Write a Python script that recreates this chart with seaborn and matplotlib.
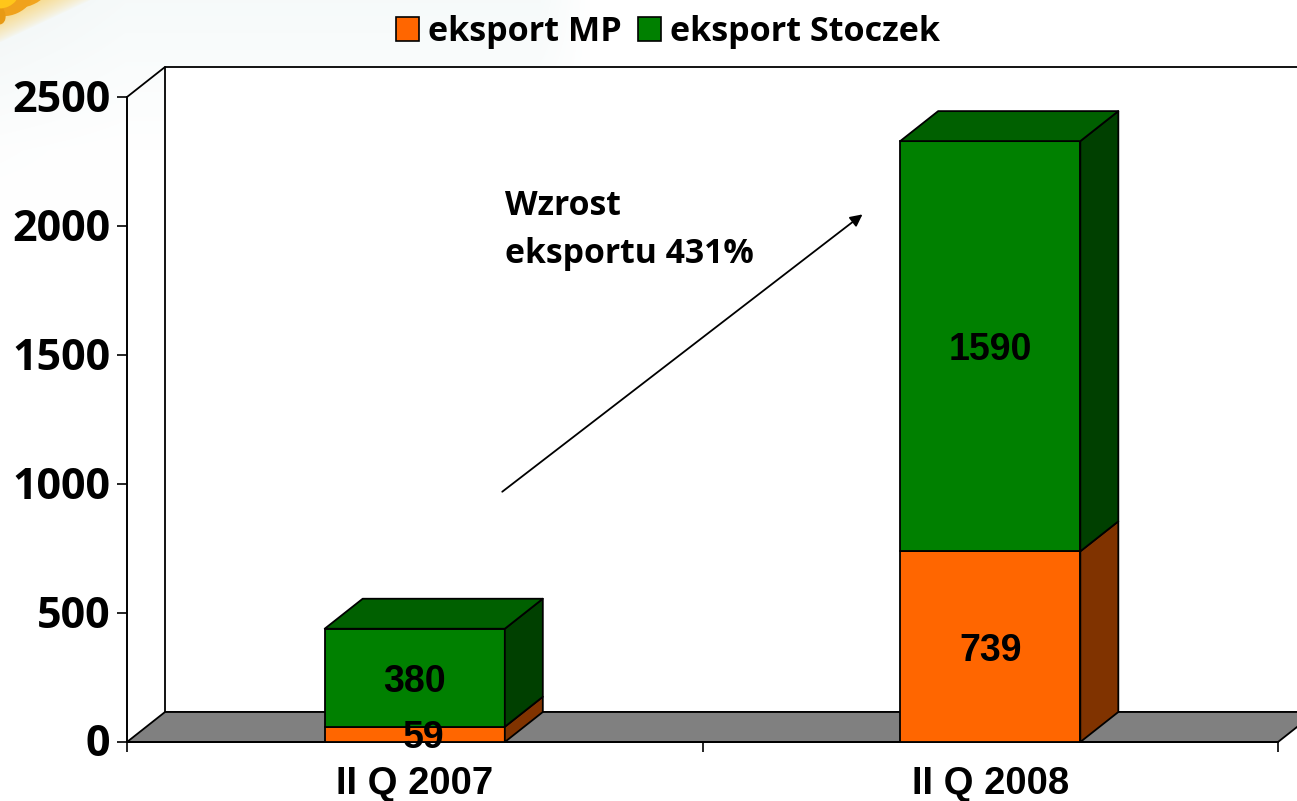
import numpy as np
import pandas as pd
import seaborn as sns
import matplotlib.pyplot as plt
from matplotlib.patches import Polygon, Patch, Ellipse
from matplotlib.transforms import ScaledTranslation

categories = ["II Q 2007", "II Q 2008"]
eksport_mp = [59, 739]
eksport_stoczek = [380, 1590]
series_names = ["eksport MP", "eksport Stoczek"]
y_ticks = [0, 500, 1000, 1500, 2000, 2500]
annotation = "Wzrost\neksportu 431%"

ORANGE, ORANGE_SIDE = "#FF6600", "#803300"
GREEN, GREEN_TOP, GREEN_SIDE = "#008000", "#006000", "#004000"
FLOOR = "#808080"
TICK_FONT = "Open Sans"
W, H = 1297, 801

sns.set_theme(style="white")
plt.rcParams["font.family"] = ["Liberation Sans", "DejaVu Sans"]

fig = plt.figure(figsize=(W / 100, H / 100), dpi=100, facecolor="white")

# soft backdrop with the corner ornament
bg = fig.add_axes([0, 0, 1, 1], zorder=0)
bg.set_axis_off()
yy, xx = np.mgrid[0:H, 0:W]
glow = np.ones((H, W, 3))
tint = np.clip(1 - yy / 150, 0, 1) * np.clip((590 - xx) / 50, 0, 1)
glow -= tint[..., None] * np.array([0.035, 0.02, 0.02])
left_tint = np.clip(1 - xx / 125, 0, 1) * np.clip(1 - yy / 220, 0, 1)
glow -= left_tint[..., None] * np.array([0.02, 0.015, 0.015])
corner = np.clip(1 - (xx / 90 + yy / 42), 0, 1)[..., None] ** 0.8
glow = glow * (1 - corner) + corner * np.array([0.98, 0.80, 0.35])
bg.imshow(glow, extent=(0, W, H, 0), aspect="auto", interpolation="bilinear")
for cx, cy, ew, eh, col in [(30, -4, 40, 18, "#F2A51E"), (13, 3, 40, 22, "#F0A21C"),
                            (-3, 14, 16, 22, "#E89A14"), (6, 1, 24, 12, "#FFC61A")]:
    bg.add_patch(Ellipse((cx, cy), ew, eh, angle=-25, facecolor=col, edgecolor="none"))
bg.set_xlim(0, W)
bg.set_ylim(H, 0)

ax = fig.add_axes([127 / W, 1 - 742 / H, (1278 - 127) / W, (742 - 97) / H], zorder=1)
ax.patch.set_alpha(0)

df = pd.DataFrame({"cat": categories, "mp": eksport_mp, "st": eksport_stoczek})
BAR_W = 0.313
LW = 1.3
sns.barplot(data=df, x="cat", y="mp", color=ORANGE, saturation=1, width=BAR_W,
            edgecolor="black", linewidth=LW, ax=ax, zorder=5)
sns.barplot(data=df, x="cat", y="st", bottom=df["mp"], color=GREEN, saturation=1, width=BAR_W,
            edgecolor="black", linewidth=LW, ax=ax, zorder=5)

ax.set_xlim(-0.5, 1.5)
ax.set_ylim(0, 2500)
DX = 38 / ((1278 - 127) / 2)
DY = 30 / (742 - 97) * 2500


def face(points, color, z):
    ax.add_patch(Polygon(points, closed=True, facecolor=color, edgecolor="black",
                         linewidth=LW, zorder=z, clip_on=False, joinstyle="round"))


# back wall and floor
face([(-0.5 + DX, DY), (-0.5 + DX, 2500 + DY), (1.5 + DX, 2500 + DY), (1.5 + DX, DY)], "white", 1)
face([(-0.5, 0), (-0.5 + DX, DY), (1.5 + DX, DY), (1.5, 0)], FLOOR, 2)
ax.plot([-0.5, -0.5 + DX], [2500, 2500 + DY], color="black", lw=LW, clip_on=False, zorder=2)

# depth faces of the stacked bars
for i, (mp, st) in enumerate(zip(eksport_mp, eksport_stoczek)):
    right = i + BAR_W / 2
    left = i - BAR_W / 2
    total = mp + st
    face([(right, 0), (right + DX, DY), (right + DX, mp + DY), (right, mp)], ORANGE_SIDE, 6)
    face([(right, mp), (right + DX, mp + DY), (right + DX, total + DY), (right, total)], GREEN_SIDE, 6)
    face([(left, total), (left + DX, total + DY), (right + DX, total + DY), (right, total)], GREEN_TOP, 6)

# value labels
for i, (mp, st) in enumerate(zip(eksport_mp, eksport_stoczek)):
    shift = 0.016 if mp < 100 else 0
    ax.text(i + shift, mp / 2, str(mp), ha="center", va="center_baseline", fontsize=27,
            fontweight="bold", color="black", zorder=8, clip_on=False)
    ax.text(i, mp + st / 2, str(st), ha="center", va="center_baseline", fontsize=27,
            fontweight="bold", color="black", zorder=8)

# axes styling
ax.set_xlabel("")
ax.set_ylabel("")
ax.set_xticks([-0.5, 0.5, 1.5], labels=["", "", ""])
ax.set_xticks([0, 1], labels=categories, minor=True)
ax.tick_params(axis="x", which="major", length=7.5, width=1.2, color="black", bottom=True)
ax.tick_params(axis="x", which="minor", length=0, pad=17.5, labelsize=27.5, labelcolor="black")
for lab in ax.get_xticklabels(minor=True):
    lab.set_fontweight("bold")
    lab.set_family("Liberation Sans")
ax.set_yticks(y_ticks, labels=[str(v) for v in y_ticks])
ax.tick_params(axis="y", length=7.5, width=1.2, color="black", left=True, pad=4.5)
lift = ScaledTranslation(0, 2 / 100, fig.dpi_scale_trans)
for lab in ax.get_yticklabels():
    lab.set_fontweight("bold")
    lab.set_family(TICK_FONT)
    lab.set_fontsize(31)
    lab.set_color("black")
    lab.set_transform(lab.get_transform() + lift)
for side in ("top", "right"):
    ax.spines[side].set_visible(False)
for side in ("left", "bottom"):
    ax.spines[side].set_visible(True)
    ax.spines[side].set_color("black")
    ax.spines[side].set_linewidth(1.4)
    ax.spines[side].set_zorder(4)

# growth arrow and its note
ax.annotate("", xy=(1 - 0.222, 2045), xytext=(0.152, 970),
            arrowprops=dict(arrowstyle="-|>", color="black", lw=1.3, mutation_scale=18,
                            shrinkA=0, shrinkB=0), zorder=9)
ax.text(0.157, 1985, annotation, ha="left", va="center", fontsize=24.3, fontweight="bold",
        family=TICK_FONT, color="black", linespacing=1.55, zorder=9)

# legend
handles = [Patch(facecolor=ORANGE, edgecolor="black", linewidth=1.2, label=series_names[0]),
           Patch(facecolor=GREEN, edgecolor="black", linewidth=1.2, label=series_names[1])]
fig.legend(handles=handles, loc="center", bbox_to_anchor=(668 / W, 1 - 32 / H), ncols=2,
           frameon=False, handlelength=0.67, handleheight=0.67, handletextpad=0.26,
           columnspacing=0.5, borderpad=0, labelcolor="black",
           prop=dict(family=TICK_FONT, weight="bold", size=24.6))

fig.savefig("out.png", dpi=100)
